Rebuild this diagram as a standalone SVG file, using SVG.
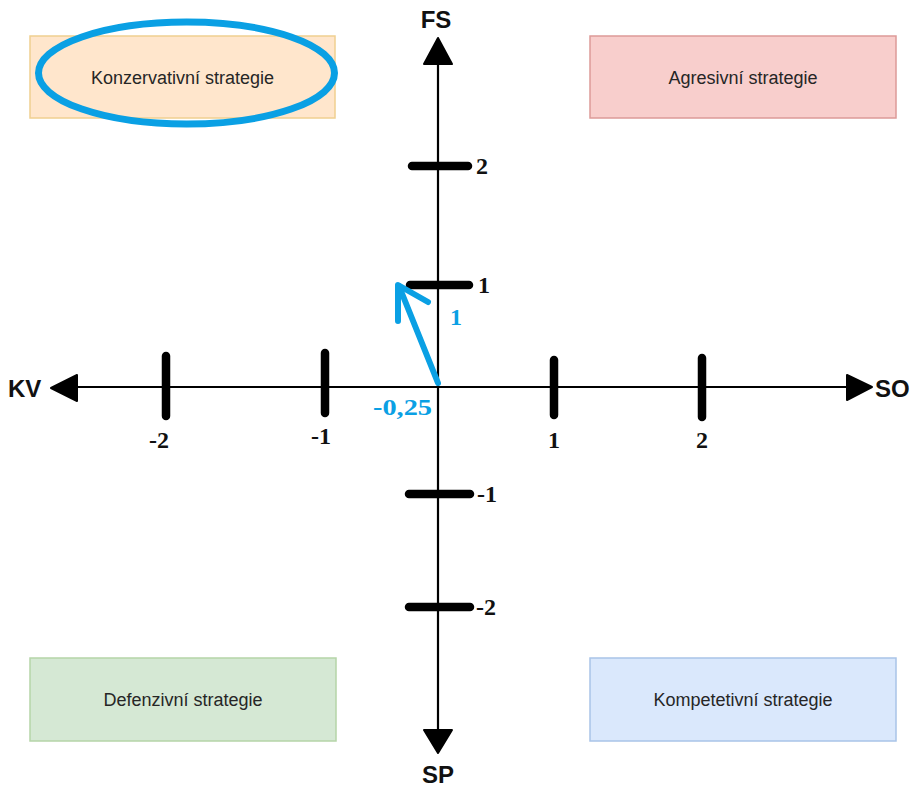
<svg xmlns="http://www.w3.org/2000/svg" width="915" height="787" viewBox="0 0 915 787">
  <style>
    .box { stroke-width: 1.5; }
    .box-label { font-family: "Liberation Sans", Arial, sans-serif; font-size: 18px; fill: #262626; text-anchor: middle; }
    .axis { stroke: #000; stroke-width: 2.2; fill: none; }
    .head { fill: #000; stroke: #000; stroke-width: 2; stroke-linejoin: round; }
    .tick { stroke: #000; stroke-width: 8.5; stroke-linecap: round; }
    .axis-name { font-family: "Liberation Sans", Arial, sans-serif; font-weight: bold; font-size: 24px; fill: #111; }
    .num { font-family: "Liberation Serif", "Times New Roman", serif; font-weight: bold; font-size: 24px; fill: #111; }
    .blue-num { font-family: "Liberation Serif", "Times New Roman", serif; font-weight: bold; font-size: 24px; fill: #0aa0e4; }
    .vec { stroke: #0aa0e4; stroke-width: 6; stroke-linecap: round; stroke-linejoin: round; fill: none; }
  </style>

  <rect width="915" height="787" fill="#fff"/>

  <!-- quadrant strategy boxes -->
  <g id="konzervativni">
    <rect class="box" x="30" y="36" width="305" height="82" fill="#ffe6cc" stroke="#f0cf90"/>
    <text class="box-label" x="182.5" y="84">Konzervativní strategie</text>
  </g>
  <g id="agresivni">
    <rect class="box" x="590" y="36" width="306" height="82" fill="#f8cecc" stroke="#dd9a98"/>
    <text class="box-label" x="743" y="84">Agresivní strategie</text>
  </g>
  <g id="defenzivni">
    <rect class="box" x="30" y="658" width="306" height="83" fill="#d5e8d4" stroke="#b5d5a8"/>
    <text class="box-label" x="183" y="706">Defenzivní strategie</text>
  </g>
  <g id="kompetetivni">
    <rect class="box" x="590" y="658" width="306" height="83" fill="#dae8fc" stroke="#a9c4e8"/>
    <text class="box-label" x="743" y="706">Kompetetivní strategie</text>
  </g>

  <!-- highlight around the chosen strategy -->
  <g id="highlight">
    <ellipse cx="186.5" cy="73" rx="148" ry="51" fill="none" stroke="#0aa0e4" stroke-width="7"/>
  </g>

  <!-- axes with arrowheads -->
  <g id="connectors">
    <line class="axis" x1="438" y1="60" x2="438" y2="735"/>
    <line class="axis" x1="72" y1="387" x2="852" y2="387"/>
    <polygon class="head" points="438,38 452,64 424,64"/>
    <polygon class="head" points="438,753 452,730 424,730"/>
    <polygon class="head" points="51,388 77,375 77,401"/>
    <polygon class="head" points="872,387 847,375 847,400"/>
  </g>

  <!-- axis names -->
  <g id="axis-names">
    <text class="axis-name" x="436" y="28" text-anchor="middle">FS</text>
    <text class="axis-name" x="438" y="783" text-anchor="middle">SP</text>
    <text class="axis-name" x="8" y="397">KV</text>
    <text class="axis-name" x="875" y="397">SO</text>
  </g>

  <!-- scale ticks -->
  <g id="ticks">
    <line class="tick" x1="166" y1="356" x2="166" y2="416"/>
    <line class="tick" x1="325" y1="353" x2="325" y2="413"/>
    <line class="tick" x1="554" y1="360" x2="554" y2="415"/>
    <line class="tick" x1="702" y1="358" x2="702" y2="417"/>
    <line class="tick" x1="412" y1="166" x2="468" y2="166"/>
    <line class="tick" x1="410" y1="285" x2="469" y2="285"/>
    <line class="tick" x1="409" y1="494" x2="470" y2="494"/>
    <line class="tick" x1="409" y1="607" x2="470" y2="607"/>
  </g>

  <!-- scale numbers -->
  <g id="numbers">
    <text class="num" x="159" y="448" text-anchor="middle">-2</text>
    <text class="num" x="321" y="444" text-anchor="middle">-1</text>
    <text class="num" x="554" y="448" text-anchor="middle">1</text>
    <text class="num" x="702" y="448" text-anchor="middle">2</text>
    <text class="num" x="476" y="174">2</text>
    <text class="num" x="478" y="293">1</text>
    <text class="num" x="477" y="502">-1</text>
    <text class="num" x="476" y="615">-2</text>
  </g>

  <!-- resulting strategy vector -->
  <g id="vector">
    <line class="vec" x1="438" y1="383" x2="399" y2="286"/>
    <polyline class="vec" points="398,321 398,285 428,302"/>
    <text class="blue-num" x="456" y="325" text-anchor="middle">1</text>
    <text class="blue-num" x="373" y="415" textLength="59" lengthAdjust="spacingAndGlyphs">-0,25</text>
  </g>
</svg>
